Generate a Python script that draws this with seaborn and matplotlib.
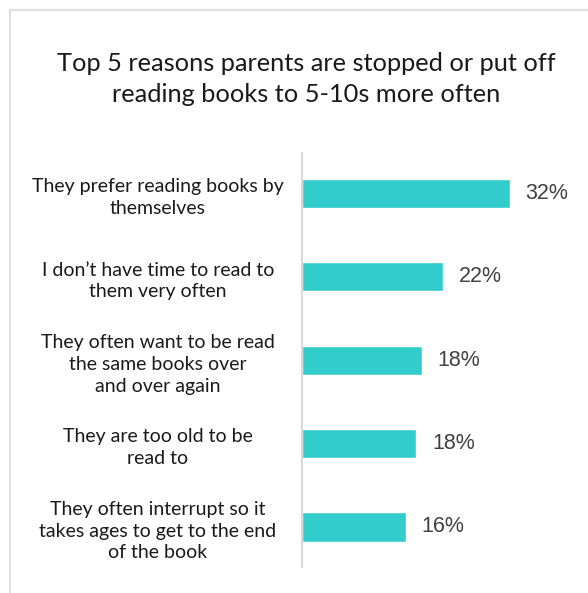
import matplotlib
matplotlib.use("Agg")
import matplotlib.pyplot as plt
import matplotlib.transforms as mtransforms
from matplotlib.patches import Rectangle
import seaborn as sns
import pandas as pd

categories = [
    "They prefer reading books by\nthemselves",
    "I don\u2019t have time to read to\nthem very often",
    "They often want to be read\nthe same books over\nand over again",
    "They are too old to be\nread to",
    "They often interrupt so it\ntakes ages to get to the end\nof the book",
]
values = [32, 21.7, 18.5, 17.6, 16]
value_labels = ["32%", "22%", "18%", "18%", "16%"]
title = "Top 5 reasons parents are stopped or put off\nreading books to 5-10s more often"

sns.set_theme(style="white")
plt.rcParams['font.family'] = ['Lato', 'DejaVu Sans']

df = pd.DataFrame({"reason": categories, "pct": values})

fig = plt.figure(figsize=(5.88, 5.93), dpi=100)
fig.patch.set_facecolor("white")
ax = fig.add_axes([302/588, 1-567/593, 1-302/588, 414/593])

sns.barplot(data=df, y="reason", x="pct", orient="h", color="#33CCCC",
            saturation=1, width=0.35, ax=ax)

ax.set_xlim(0, 44)
ax.set_ylim(4.48, -0.486)
ax.set_xlabel("")
ax.set_ylabel("")
ax.set_xticks([])
ax.set_yticks([])
for s in ["top", "right", "bottom"]:
    ax.spines[s].set_visible(False)
ax.spines["left"].set_color("#d9d9d9")
ax.spines["left"].set_linewidth(1.5)

for i, (v, lab) in enumerate(zip(values, value_labels)):
    ax.text(v + 2.4, i, lab, va="center", ha="left", fontsize=15.5,
            color="#404040", family=["Liberation Sans", "DejaVu Sans"])

trans = mtransforms.blended_transform_factory(fig.transFigure, ax.transData)
for i, c in enumerate(categories):
    ax.text(158/588, i + 0.05, c, transform=trans, ha="center", va="center",
            multialignment="center", fontsize=14, color="#1a1a1a",
            linespacing=1.34)

fig.text(306/588, 1-79/593, title, ha="center", va="center", fontsize=18.3,
         color="#1a1a1a", linespacing=1.42)

border = Rectangle((10/588, -0.1), 1.2, 1-10/593 + 0.1, transform=fig.transFigure,
                   fill=False, edgecolor="#e0e0e0", linewidth=1.5, clip_on=False)
fig.add_artist(border)

fig.savefig("out.png", dpi=100, facecolor="white")
